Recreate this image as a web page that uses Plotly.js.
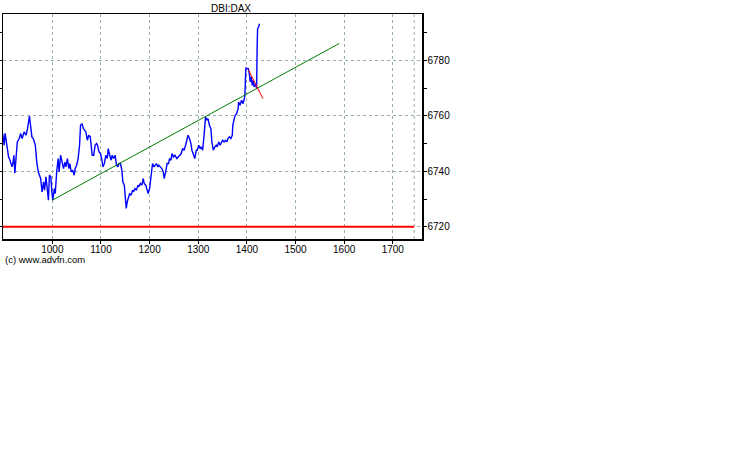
<!DOCTYPE html>
<html>
<head>
<meta charset="utf-8">
<script src="https://cdn.plot.ly/plotly-3.0.1.min.js"></script>
<style>html,body{margin:0;padding:0;background:#fff;}#chart{width:738px;height:475px;}</style>
</head>
<body>
<div id="chart"></div>
<script>
// Price series (tick index, price)
const priceX = [898,901,903,906,910,913,917,919,921,923,925,928,932,935,938,942,946,949,953,956,958,961,965,968,971,976,979,982,984,987,990,992,994,997,999,1001,1004,1006,1009,1012,1014,1017,1020,1023,1026,1028,1031,1034,1036,1039,1042,1045,1047,1050,1053,1056,1058,1061,1064,1067,1069,1072,1075,1078,1082,1085,1088,1091,1093,1096,1099,1102,1104,1107,1110,1113,1115,1118,1121,1123,1126,1129,1132,1135,1137,1140,1143,1145,1148,1150,1152,1154,1156,1159,1162,1165,1167,1170,1173,1176,1178,1181,1184,1187,1189,1192,1195,1197,1200,1203,1206,1209,1211,1214,1217,1219,1222,1225,1228,1230,1233,1236,1239,1241,1244,1246,1249,1252,1256,1259,1263,1265,1268,1271,1274,1276,1279,1282,1285,1287,1290,1293,1296,1298,1301,1304,1306,1309,1312,1315,1318,1320,1323,1326,1328,1331,1334,1337,1339,1342,1345,1348,1350,1353,1356,1359,1361,1364,1367,1370,1371,1374,1376,1379,1382,1383,1386,1389,1392,1394,1396,1397,1398,1401,1403,1405,1407,1409,1411,1413,1415,1418,1420,1421,1422,1424,1426];
const priceY = [6753.6,6749.4,6753.7,6750.6,6745.2,6744.0,6741.6,6742.9,6745.8,6739.3,6744.7,6750.6,6751.8,6753.6,6751.8,6754.2,6753.0,6755.4,6759.9,6755.4,6752.4,6751.8,6749.4,6743.4,6739.8,6737.4,6732.6,6736.2,6733.2,6738.0,6731.4,6729.6,6738.6,6738.0,6732.6,6729.6,6733.8,6732.0,6739.8,6744.6,6739.8,6745.8,6743.4,6741.0,6743.3,6741.6,6744.6,6741.0,6742.8,6739.8,6740.4,6738.6,6741.0,6742.2,6744.6,6749.4,6756.6,6757.2,6755.4,6754.8,6754.2,6751.2,6753.0,6752.4,6745.8,6745.8,6749.4,6750.0,6749.4,6747.0,6746.4,6744.0,6741.6,6742.8,6745.8,6744.6,6748.2,6745.8,6744.0,6745.8,6744.6,6745.8,6742.2,6741.6,6742.8,6742.8,6740.4,6736.2,6735.0,6730.8,6726.6,6729.0,6730.2,6732.0,6731.4,6733.2,6732.6,6733.8,6733.2,6735.0,6734.4,6735.6,6735.0,6737.4,6735.6,6735.0,6733.2,6732.0,6733.8,6738.6,6742.8,6741.6,6742.2,6742.8,6741.6,6742.2,6741.6,6741.0,6739.8,6737.4,6739.8,6742.8,6742.8,6744.6,6744.0,6746.4,6745.2,6745.8,6744.6,6745.2,6745.8,6746.4,6748.2,6747.6,6749.4,6751.2,6753.0,6751.8,6750.0,6747.6,6746.4,6744.6,6747.6,6747.6,6749.4,6748.2,6748.8,6747.6,6753.0,6759.6,6758.4,6759.0,6756.6,6755.4,6750.6,6747.6,6748.8,6749.4,6748.8,6750.6,6749.4,6750.6,6751.2,6750.6,6751.2,6750.6,6751.8,6752.4,6751.8,6753.0,6756.6,6759.0,6760.2,6760.8,6762.6,6765.0,6763.8,6765.6,6764.4,6765.6,6767.4,6773.4,6777.2,6777.0,6777.0,6775.2,6772.2,6774.0,6771.0,6772.8,6770.4,6771.6,6769.8,6784.2,6791.4,6792.0,6793.2];

// Green trend line endpoints
const trendX = [1000, 1590];
const trendY = [6729.6, 6786.1];

// Short red line
const shortX = [1403, 1433];
const shortY = [6776.6, 6766.2];

// Red horizontal support level
const supportLevel = 6720;
const supportX = [898.6, 1744];

// Extra dotted vertical marker (end of chart)
const endMarkerX = 1744;

const xRange = [898.6, 1760];
const yRange = [6715.6, 6796.7];
const xTicks = [1000, 1100, 1200, 1300, 1400, 1500, 1600, 1700];
const yTicks = [6720, 6740, 6760, 6780];

const gridCol = '#9ab0b0';
const traces = [
  {x: supportX, y: supportX.map(() => supportLevel), mode: 'lines', line: {color: '#ff0000', width: 2}, hoverinfo: 'skip'},
  {x: priceX, y: priceY, mode: 'lines', line: {color: '#0000ff', width: 1.4}},
  {x: trendX, y: trendY, mode: 'lines', line: {color: '#008000', width: 1}},
  {x: shortX, y: shortY, mode: 'lines', line: {color: '#ff0000', width: 1}}
];

const layout = {
  width: 738, height: 475,
  margin: {l: 3, r: 316, t: 14, b: 236},
  paper_bgcolor: '#ffffff', plot_bgcolor: '#ffffff',
  showlegend: false,
  font: {family: 'Liberation Sans, Arial, sans-serif', size: 10, color: '#000'},
  title: {text: 'DBI:DAX', font: {size: 10, color: '#000'}, xref: 'container', yref: 'container', x: 231/738, xanchor: 'center', y: 1 - 8/475, yanchor: 'middle'},
  xaxis: {
    range: xRange, tickvals: xTicks, ticktext: xTicks.map(String),
    showgrid: true, gridcolor: gridCol, griddash: 'dot', gridwidth: 1,
    showline: true, linecolor: '#000', linewidth: 1.5, mirror: true,
    ticks: 'outside', ticklen: 3, tickcolor: '#000', zeroline: false,
    ticklabelstandoff: -3,
    tickfont: {size: 10}
  },
  yaxis: {
    range: yRange, side: 'right', tickvals: yTicks, ticktext: yTicks.map(String),
    showgrid: true, gridcolor: gridCol, griddash: 'dot', gridwidth: 1,
    showline: true, linecolor: '#000', linewidth: 1.5, mirror: 'ticks',
    ticks: 'outside', ticklen: 3, tickcolor: '#000', zeroline: false,
    ticklabelstandoff: -1,
    minor: {dtick: 10, tick0: 6710, ticks: 'outside', ticklen: 3, tickcolor: '#000', showgrid: false},
    tickfont: {size: 10}
  },
  shapes: [
    {type: 'line', xref: 'x', yref: 'paper', x0: endMarkerX, x1: endMarkerX, y0: 0, y1: 1, line: {color: gridCol, width: 1, dash: 'dot'}, layer: 'below'}
  ],
  annotations: [
    {text: '(c) www.advfn.com', xref: 'paper', yref: 'paper', x: 0.0, y: -0.09, xanchor: 'left', yanchor: 'middle', showarrow: false, font: {size: 9.5, color: '#000'}}
  ]
};

Plotly.newPlot('chart', traces, layout, {displayModeBar: false, staticPlot: true});
</script>
</body>
</html>
